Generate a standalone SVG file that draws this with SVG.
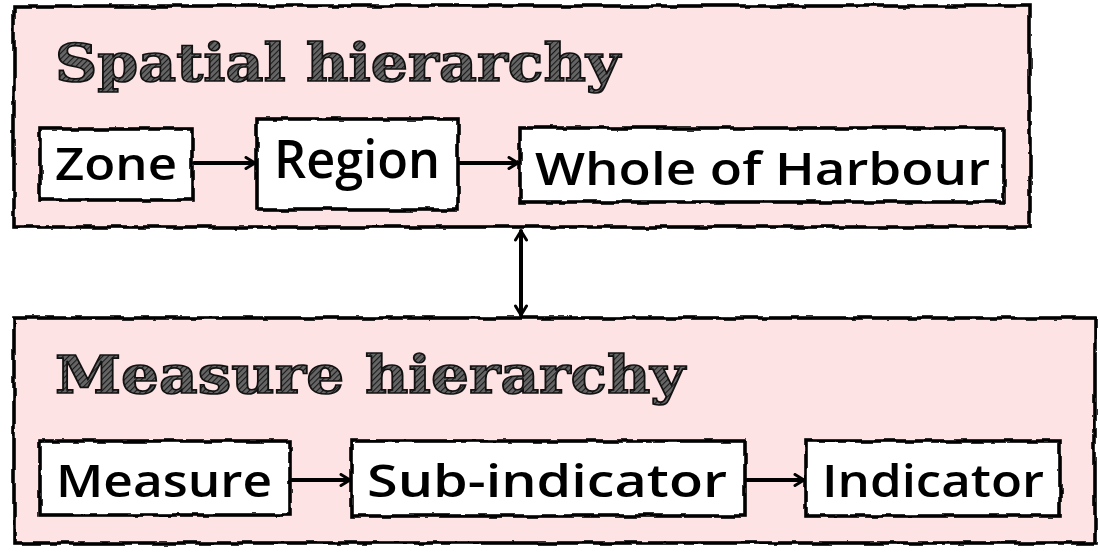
<svg xmlns="http://www.w3.org/2000/svg" width="1098" height="555" viewBox="0 0 1098 555">
<defs>
<filter id="rough" x="-5%" y="-5%" width="110%" height="110%">
<feTurbulence type="fractalNoise" baseFrequency="0.05" numOctaves="2" seed="3" result="n"/>
<feDisplacementMap in="SourceGraphic" in2="n" scale="5" xChannelSelector="R" yChannelSelector="G"/>
</filter>
<pattern id="hatch" width="4" height="4" patternUnits="userSpaceOnUse" patternTransform="rotate(45)">
<rect width="4" height="4" fill="#666"/>
<line x1="0" y1="0" x2="0" y2="4" stroke="#1a1a1a" stroke-width="2.2"/>
</pattern>
<marker id="arr" viewBox="0 0 14 14" refX="12" refY="7" markerWidth="14" markerHeight="14" markerUnits="userSpaceOnUse" orient="auto-start-reverse">
<path d="M3,1.5 L12,7 L3,12.5" fill="none" stroke="#000" stroke-width="3" stroke-linecap="round" stroke-linejoin="round"/>
</marker>
</defs>
<style>
.panel{fill:#fee3e4;stroke:#000;stroke-width:3.6;filter:url(#rough)}
.box{fill:#fff;stroke:#000;stroke-width:3.6;filter:url(#rough)}
.title{font-family:"DejaVu Serif",serif;font-weight:bold;font-size:52px;fill:url(#hatch);stroke:#111;stroke-width:1.6}
.lbl{font-family:"Open Sans","Liberation Sans",sans-serif;font-weight:600;font-size:46px;fill:#000}
.conn{fill:none;stroke:#000;stroke-width:4;stroke-linecap:round;marker-end:url(#arr)}
</style>
<g id="spatial">
<rect class="panel" x="14" y="6" width="1016" height="221"/>
<text class="title" x="55" y="81" textLength="565" lengthAdjust="spacingAndGlyphs">Spatial hierarchy</text>
</g>
<g id="measure-panel">
<rect class="panel" x="14" y="318" width="1081" height="225"/>
<text class="title" x="55" y="393" textLength="630" lengthAdjust="spacingAndGlyphs">Measure hierarchy</text>
</g>
<g id="zone">
<rect class="box" x="40" y="129" width="152" height="71"/>
<text class="lbl" x="55" y="180" textLength="122" lengthAdjust="spacingAndGlyphs">Zone</text>
</g>
<g id="region">
<rect class="box" x="257" y="119" width="201" height="91"/>
<text class="lbl" x="274" y="178" textLength="166" lengthAdjust="spacingAndGlyphs" style="font-size:52px">Region</text>
</g>
<g id="whole">
<rect class="box" x="520" y="128" width="484" height="74"/>
<text class="lbl" x="535" y="185" textLength="455" lengthAdjust="spacingAndGlyphs">Whole of Harbour</text>
</g>
<g id="measure">
<rect class="box" x="40" y="441" width="250" height="74"/>
<text class="lbl" x="56" y="497" textLength="216" lengthAdjust="spacingAndGlyphs">Measure</text>
</g>
<g id="subindicator">
<rect class="box" x="352" y="441" width="393" height="75"/>
<text class="lbl" x="367" y="497" textLength="360" lengthAdjust="spacingAndGlyphs">Sub-indicator</text>
</g>
<g id="indicator">
<rect class="box" x="806" y="441" width="254" height="75"/>
<text class="lbl" x="822" y="497" textLength="222" lengthAdjust="spacingAndGlyphs">Indicator</text>
</g>
<g id="connectors">
<path class="conn" d="M194,163 L255,163"/>
<path class="conn" d="M460,163 L518,163"/>
<path class="conn" d="M292,480 L350,480"/>
<path class="conn" d="M747,480 L804,480"/>
<path class="conn" d="M521,231 L521,315" style="marker-start:url(#arr)"/>
</g>
</svg>
